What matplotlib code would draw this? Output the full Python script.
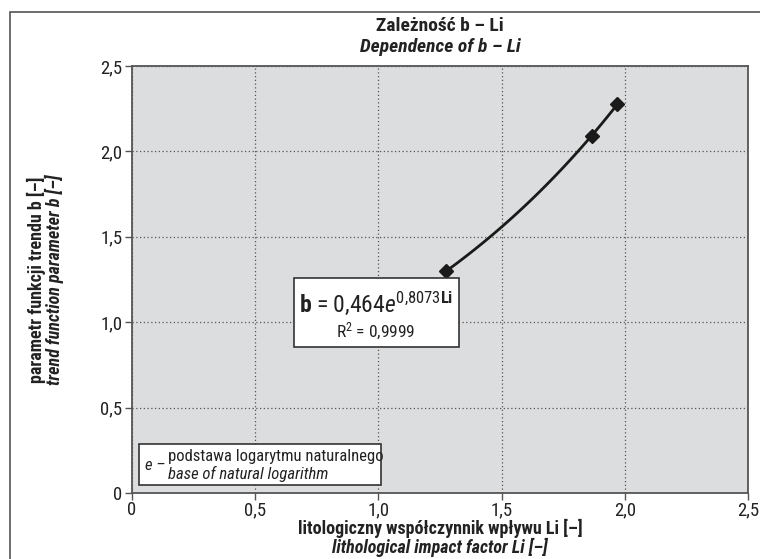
import numpy as np
import matplotlib
matplotlib.use("Agg")
import matplotlib.pyplot as plt
from matplotlib.patches import Rectangle
from matplotlib import font_manager

# ---- data ----
li_values = [1.274, 1.867, 1.968]
b_values = [1.30, 2.09, 2.278]
trend_a = 0.464
trend_k = 0.8073
x_ticks = [0, 0.5, 1.0, 1.5, 2.0, 2.5]
x_ticklabels = ["0", "0,5", "1,0", "1,5", "2,0", "2,5"]
y_ticks = [0, 0.5, 1.0, 1.5, 2.0, 2.5]
y_ticklabels = ["0", "0,5", "1,0", "1,5", "2,0", "2,5"]

title_pl = "Zależność b – Li"
title_en = "Dependence of b – Li"
xlabel_pl = "litologiczny współczynnik wpływu Li [–]"
xlabel_en = "lithological impact factor Li [–]"
ylabel_pl = "parametr funkcji trendu b [–]"
ylabel_en = "trend function parameter b [–]"

# ---- fonts ----
avail = {f.name for f in font_manager.fontManager.ttflist}
cands = ["Liberation Sans Narrow", "Roboto Condensed", "DejaVu Sans Condensed", "Liberation Sans", "DejaVu Sans"]
fam = [c for c in cands if c in avail] or ["DejaVu Sans"]
plt.rcParams["font.family"] = fam
main = fam[0]
plt.rcParams["mathtext.fontset"] = "custom"
plt.rcParams["mathtext.rm"] = main
plt.rcParams["mathtext.it"] = main + ":italic"
plt.rcParams["mathtext.bf"] = main + ":bold"

W, H = 760, 559
fig = plt.figure(figsize=(W / 100, H / 100), dpi=100)
fig.patch.set_facecolor("white")

# outer frame
fig.patches.append(Rectangle((10 / W, -0.1), 1.2, 1 - 12 / H + 0.1, transform=fig.transFigure,
                             fill=False, edgecolor="#555555", linewidth=1.2, zorder=0))

left, right, top, bottom = 132, 748, 66, 493
ax = fig.add_axes([left / W, 1 - bottom / H, (right - left) / W, (bottom - top) / H])
ax.set_facecolor("#DCDDDE")
ax.set_xlim(0, 2.5)
ax.set_ylim(0, 2.5)

ax.grid(True, linestyle=(0, (1, 2)), color="#555555", linewidth=0.9)
ax.set_axisbelow(True)

for s in ax.spines.values():
    s.set_color("#555555")
    s.set_linewidth(1.3)

ax.set_xticks(x_ticks)
ax.set_xticklabels(x_ticklabels)
ax.set_yticks(y_ticks)
ax.set_yticklabels(y_ticklabels)
ax.tick_params(direction="out", length=5, width=1, color="#555555", labelsize=13.5,
               labelcolor="#222222", pad=2)
ax.tick_params(axis="x", pad=1)

# trend line and points
li_fit = np.linspace(li_values[0], li_values[-1], 100)
b_fit = trend_a * np.exp(trend_k * li_fit)
ax.plot(li_fit, b_fit, color="#1a1a1a", linewidth=2, zorder=3)
ax.plot(li_values, b_values, linestyle="none", marker="D", markersize=7,
        color="#1a1a1a", zorder=4)

# titles
fig.text(440 / W, 1 - 26 / H, title_pl, ha="center", va="center", fontsize=14,
         fontweight="bold", color="#222222")
fig.text(440 / W, 1 - 47 / H, title_en, ha="center", va="center", fontsize=14,
         fontweight="bold", style="italic", color="#222222")

# x label
fig.text(440 / W, 1 - 528 / H, xlabel_pl, ha="center", va="center", fontsize=13,
         fontweight="bold", color="#222222")
fig.text(440 / W, 1 - 547 / H, xlabel_en, ha="center", va="center", fontsize=13,
         fontweight="bold", style="italic", color="#222222")

# y label
fig.text(36 / W, 1 - 280 / H, ylabel_pl, ha="center", va="center", fontsize=13,
         fontweight="bold", rotation=90, color="#222222")
fig.text(54 / W, 1 - 280 / H, ylabel_en, ha="center", va="center", fontsize=13,
         fontweight="bold", style="italic", rotation=90, color="#222222")

# equation box
fig.patches.append(Rectangle((294 / W, 1 - 347 / H), (459 - 294) / W, (347 - 278) / H,
                             transform=fig.transFigure, facecolor="white",
                             edgecolor="#333333", linewidth=1.2, zorder=5))
fig.text(376 / W, 1 - 303 / H,
         r"$\mathbf{b}$ = 0,464$\mathit{e}^{0{,}8073\mathbf{Li}}$",
         ha="center", va="center", fontsize=17, color="#222222", zorder=6)
fig.text(376 / W, 1 - 331 / H, r"R$^{2}$ = 0,9999", ha="center", va="center",
         fontsize=12.5, color="#222222", zorder=6)

# note box
fig.patches.append(Rectangle((139 / W, 1 - 485 / H), (381 - 139) / W, (485 - 444) / H,
                             transform=fig.transFigure, facecolor="white",
                             edgecolor="#333333", linewidth=1.2, zorder=5))
fig.text(145 / W, 1 - 466 / H, "e –", ha="left", va="center", fontsize=12,
         style="italic", color="#222222", zorder=6)
fig.text(168 / W, 1 - 457 / H, "podstawa logarytmu naturalnego", ha="left", va="center",
         fontsize=12, color="#222222", zorder=6)
fig.text(168 / W, 1 - 474 / H, "base of natural logarithm", ha="left", va="center",
         fontsize=12, style="italic", color="#222222", zorder=6)

fig.savefig("out.png", dpi=100)
